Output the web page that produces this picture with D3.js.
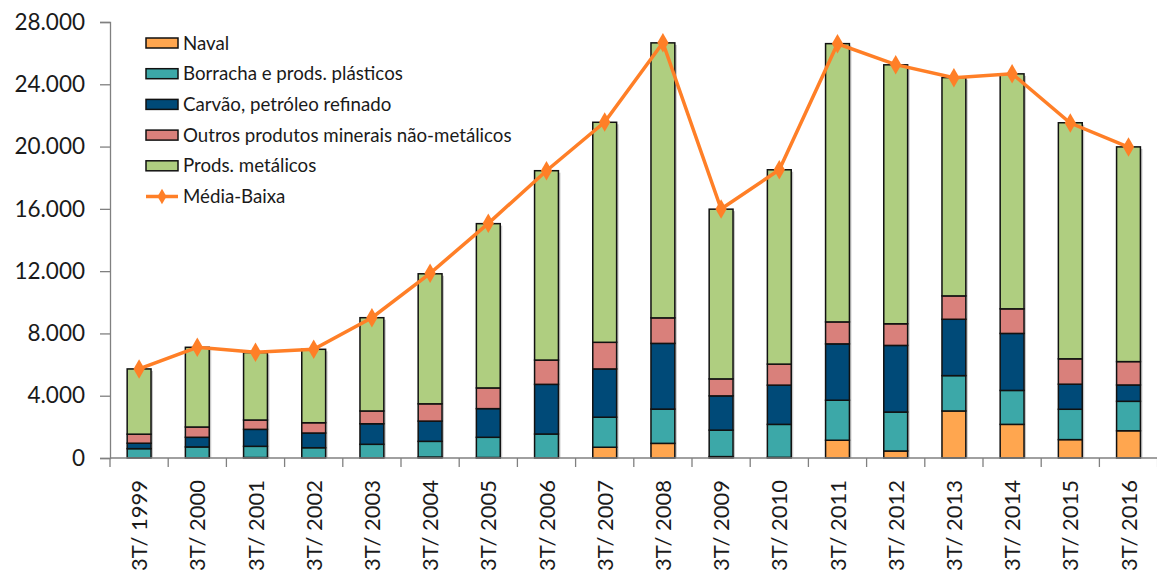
<!DOCTYPE html>
<html>
<head>
<meta charset="utf-8">
<script src="https://cdn.jsdelivr.net/npm/d3@7"></script>
<style>
  body { margin: 0; background: #fff; }
  text { font-family: Lato, "Open Sans", sans-serif; fill: #1a1a1a; }
</style>
</head>
<body>
<svg id="chart" width="1157" height="573"></svg>
<script>
// categorias (3º trimestre de cada ano)
const years = ["1999","2000","2001","2002","2003","2004","2005","2006","2007","2008","2009","2010","2011","2012","2013","2014","2015","2016"];

// séries empilhadas
const naval    = [0, 0, 30, 0, 0, 60, 30, 0, 690, 940, 90, 40, 1140, 450, 3020, 2160, 1180, 1750];
const borracha = [600, 710, 720, 660, 880, 1010, 1300, 1540, 1930, 2200, 1700, 2120, 2570, 2500, 2270, 2180, 1950, 1890];
const carvao   = [350, 620, 1090, 945, 1320, 1300, 1840, 3190, 3100, 4220, 2200, 2520, 3620, 4280, 3620, 3660, 1610, 1050];
const outros   = [580, 660, 600, 660, 820, 1110, 1330, 1560, 1710, 1640, 1090, 1350, 1410, 1390, 1500, 1580, 1630, 1500];
const metal    = [4190, 5120, 4330, 4715, 5990, 8350, 10550, 12160, 14130, 17660, 10900, 12480, 17870, 16630, 14020, 15090, 15160, 13790];

// linha total
const mediaBaixa = [5720, 7110, 6790, 6980, 9010, 11860, 15070, 18450, 21580, 26670, 15990, 18510, 26600, 25260, 24420, 24680, 21510, 19970];

const yTicks = [0, 4000, 8000, 12000, 16000, 20000, 24000, 28000];

const seriesNames = ["Naval", "Borracha e prods. plásticos", "Carvão, petróleo refinado", "Outros produtos minerais não-metálicos", "Prods. metálicos"];
const seriesKeys = ["naval", "borracha", "carvao", "outros", "metal"];
const colors = ["#FFA64F", "#3CA8A8", "#004A78", "#D9807B", "#AFCE80"];
const lineColor = "#FF7F27";

const table = years.map((yr, i) => ({
  year: yr, naval: naval[i], borracha: borracha[i], carvao: carvao[i], outros: outros[i], metal: metal[i], total: mediaBaixa[i]
}));

const svg = d3.select("#chart");
const mLeft = 110, mRight = 1157.6, mTop = 22, mBottom = 458;

const x = d3.scaleBand().domain(years).range([mLeft, mRight]).paddingInner(0.59).paddingOuter(0.295);
const xb = d3.scaleBand().domain(years).range([mLeft, mRight]); // for band ticks
const y = d3.scaleLinear().domain([0, 28000]).range([mBottom, mTop]);

const stack = d3.stack().keys(seriesKeys)(table);
const last = stack[stack.length - 1];

// faint shadow behind each bar (excel look)
svg.append("g").selectAll("rect")
  .data(last).join("rect")
  .attr("x", d => x(d.data.year) + 2)
  .attr("width", x.bandwidth())
  .attr("y", d => y(d[1]) + 2)
  .attr("height", d => y(0) - y(d[1]) - 2)
  .attr("fill", "#c8c8c8");

// bars
svg.append("g").selectAll("g")
  .data(stack).join("g")
  .attr("fill", (d, i) => colors[i])
  .selectAll("rect")
  .data(d => d).join("rect")
  .attr("x", d => x(d.data.year))
  .attr("width", x.bandwidth())
  .attr("y", d => y(d[1]))
  .attr("height", d => y(d[0]) - y(d[1]))
  .attr("stroke", "#111")
  .attr("stroke-width", 1.5);

// y axis
const yAxis = svg.append("g")
  .attr("transform", `translate(${mLeft},0)`)
  .call(d3.axisLeft(y).tickValues(yTicks).tickSize(10).tickPadding(15)
    .tickFormat(d => d3.format(",")(d).replace(/,/g, ".")));
yAxis.selectAll("text").style("font-size", "22.5px");
yAxis.selectAll("path, line").attr("stroke", "#808080").attr("stroke-width", 1.3);

// x axis: ticks sit on band boundaries
const xAxis = svg.append("g").attr("transform", `translate(0,${mBottom})`);
xAxis.append("line").attr("x1", mLeft).attr("x2", mRight).attr("stroke", "#808080").attr("stroke-width", 1.3);
xAxis.selectAll("line.tick")
  .data(years.concat(["end"])).join("line")
  .attr("class", "tick")
  .attr("x1", (d, i) => i < years.length ? xb(d) : mRight)
  .attr("x2", (d, i) => i < years.length ? xb(d) : mRight)
  .attr("y1", 0).attr("y2", 9)
  .attr("stroke", "#808080").attr("stroke-width", 1.3);
xAxis.selectAll("text")
  .data(years).join("text")
  .attr("transform", d => `translate(${xb(d) + xb.bandwidth() / 2 + 8},${22}) rotate(-90)`)
  .attr("text-anchor", "end")
  .style("font-size", "22px")
  .text(d => "3T/ " + d);

// line
const line = d3.line().x(d => x(d.year) + x.bandwidth() / 2).y(d => y(d.total));
svg.append("path")
  .datum(table)
  .attr("d", line)
  .attr("fill", "none")
  .attr("stroke", lineColor)
  .attr("stroke-width", 3.5);

const diamond = d3.symbol().type(d3.symbolDiamond).size(110);
svg.append("g").selectAll("path")
  .data(table).join("path")
  .attr("d", diamond)
  .attr("transform", d => `translate(${x(d.year) + x.bandwidth() / 2},${y(d.total)})`)
  .attr("fill", lineColor);

// legend
const legend = svg.append("g").attr("transform", "translate(146,43)");
const rowH = 30.7;
seriesNames.forEach((name, i) => {
  const g = legend.append("g").attr("transform", `translate(0,${i * rowH})`);
  g.append("rect").attr("x", 0).attr("y", -5).attr("width", 32).attr("height", 10)
    .attr("fill", colors[i]).attr("stroke", "#111").attr("stroke-width", 1.5);
  g.append("text").attr("x", 37).attr("y", 0).attr("dy", "0.35em").style("font-size", "18.7px").text(name);
});
const lg = legend.append("g").attr("transform", `translate(0,${5 * rowH})`);
lg.append("line").attr("x1", 0).attr("x2", 32).attr("stroke", lineColor).attr("stroke-width", 3.5);
lg.append("path").attr("d", d3.symbol().type(d3.symbolDiamond).size(70)).attr("transform", "translate(16,0)").attr("fill", lineColor);
lg.append("text").attr("x", 37).attr("y", 0).attr("dy", "0.35em").style("font-size", "18.7px").text("Média-Baixa");
</script>
</body>
</html>
